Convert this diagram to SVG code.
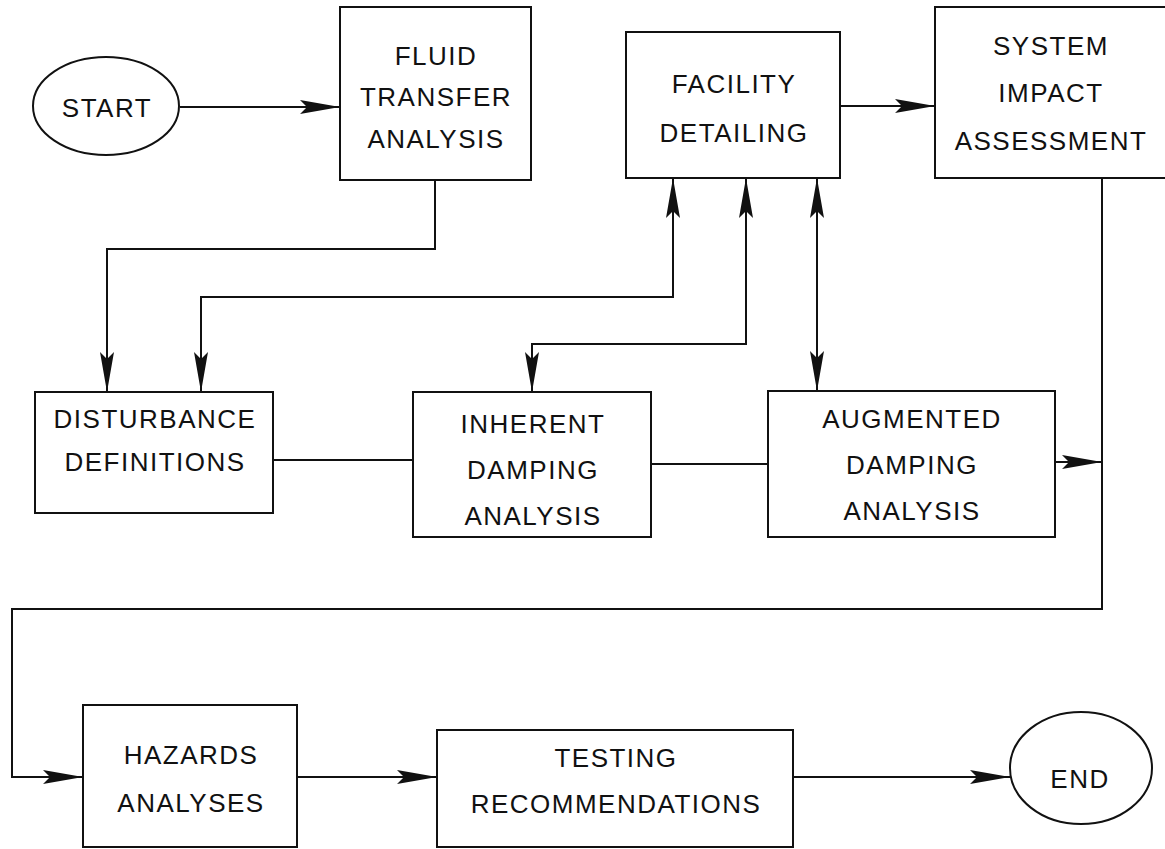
<svg xmlns="http://www.w3.org/2000/svg" width="1165" height="849" viewBox="0 0 1165 849">
<style>
.box{fill:none;stroke:#111;stroke-width:2}
.lbl{font-family:"Liberation Sans",Arial,sans-serif;font-size:26px;fill:#111;text-anchor:middle;letter-spacing:1.5px}
.con{fill:none;stroke:#111;stroke-width:2}
.arr{marker-end:url(#ah)}
.bi{marker-start:url(#ah);marker-end:url(#ah)}
</style>
<defs>
<marker id="ah" viewBox="0 0 40 14" refX="40" refY="7" markerWidth="40" markerHeight="14" markerUnits="userSpaceOnUse" orient="auto-start-reverse">
<path d="M0,0 L40,7 L0,14 L7,7 Z" fill="#111"/>
</marker>
</defs>
<rect width="1165" height="849" fill="#fff"/>
<g id="connectors">
<path class="con arr" d="M180,107 H340"/>
<path class="con arr" d="M435,180 V249 H107 V392"/>
<path class="con bi" d="M673,178 V297 H201 V392"/>
<path class="con bi" d="M746,178 V344 H532 V392"/>
<path class="con bi" d="M817,178 V391"/>
<path class="con arr" d="M840,106 H935"/>
<path class="con" d="M273,460 H413"/>
<path class="con" d="M651,464 H768"/>
<path class="con arr" d="M1055,462 H1102"/>
<path class="con arr" d="M1102,178 V609 H12 V777 H83"/>
<path class="con arr" d="M297,777 H437"/>
<path class="con arr" d="M793,777 H1010"/>
</g>
<g id="start">
<ellipse class="box" cx="106" cy="106" rx="73" ry="49"/>
<text class="lbl" x="107" y="117">START</text>
</g>
<g id="fluid">
<rect class="box" x="340" y="7" width="191" height="173"/>
<text class="lbl" x="436" y="65">FLUID</text>
<text class="lbl" x="436" y="106">TRANSFER</text>
<text class="lbl" x="436" y="148">ANALYSIS</text>
</g>
<g id="facility">
<rect class="box" x="626" y="32" width="214" height="146"/>
<text class="lbl" x="734" y="93">FACILITY</text>
<text class="lbl" x="734" y="142">DETAILING</text>
</g>
<g id="system">
<rect class="box" x="935" y="7" width="232" height="171"/>
<text class="lbl" x="1051" y="55">SYSTEM</text>
<text class="lbl" x="1051" y="102">IMPACT</text>
<text class="lbl" x="1051" y="150">ASSESSMENT</text>
</g>
<g id="disturbance">
<rect class="box" x="35" y="392" width="238" height="121"/>
<text class="lbl" x="155" y="428">DISTURBANCE</text>
<text class="lbl" x="155" y="471">DEFINITIONS</text>
</g>
<g id="inherent">
<rect class="box" x="413" y="392" width="238" height="145"/>
<text class="lbl" x="533" y="433">INHERENT</text>
<text class="lbl" x="533" y="479">DAMPING</text>
<text class="lbl" x="533" y="525">ANALYSIS</text>
</g>
<g id="augmented">
<rect class="box" x="768" y="391" width="287" height="146"/>
<text class="lbl" x="912" y="428">AUGMENTED</text>
<text class="lbl" x="912" y="474">DAMPING</text>
<text class="lbl" x="912" y="520">ANALYSIS</text>
</g>
<g id="hazards">
<rect class="box" x="83" y="705" width="214" height="142"/>
<text class="lbl" x="191" y="764">HAZARDS</text>
<text class="lbl" x="191" y="812">ANALYSES</text>
</g>
<g id="testing">
<rect class="box" x="437" y="730" width="356" height="117"/>
<text class="lbl" x="616" y="767">TESTING</text>
<text class="lbl" x="616" y="813">RECOMMENDATIONS</text>
</g>
<g id="end">
<ellipse class="box" cx="1081" cy="768" rx="71" ry="56"/>
<text class="lbl" x="1080" y="788">END</text>
</g>
</svg>
